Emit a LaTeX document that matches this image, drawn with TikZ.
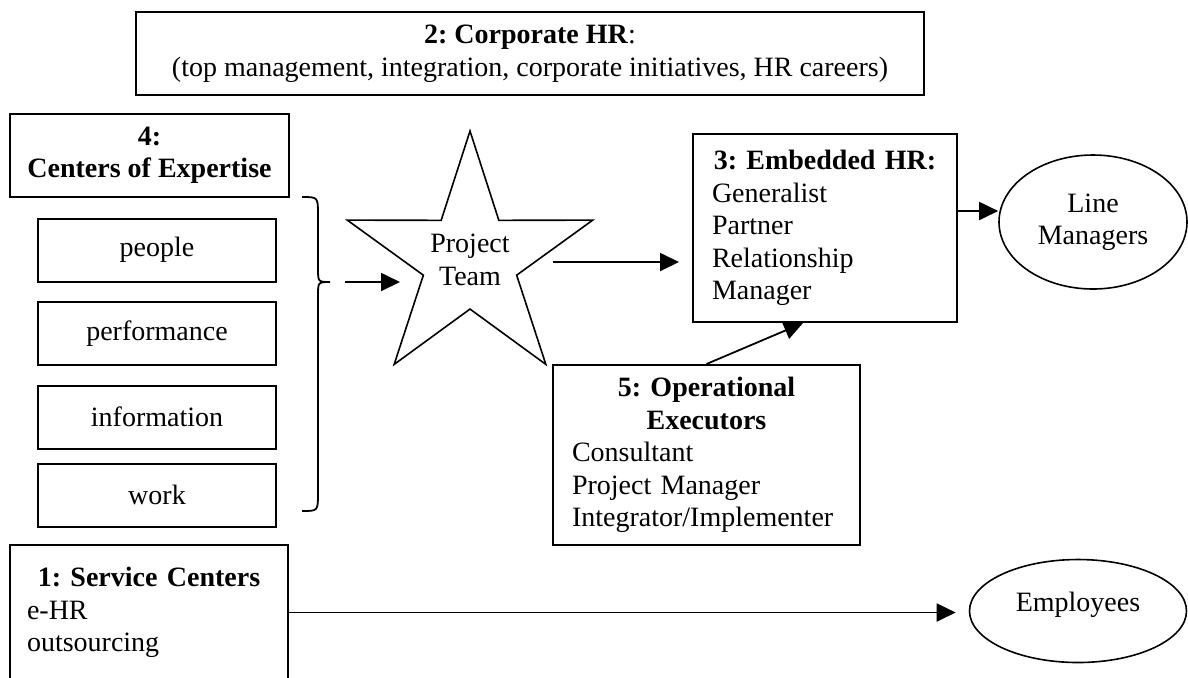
\documentclass[tikz,border=0pt]{standalone}
\usepackage{fontspec}
\setmainfont{Liberation Serif}
\usetikzlibrary{shapes.geometric,arrows.meta}
\tikzstyle{hrbox} = [draw, line width=1pt, rectangle, inner sep=0pt, align=center]
\tikzstyle{subbox} = [draw, line width=1pt, rectangle, minimum width=119pt, minimum height=31.5pt]
\tikzstyle{oval} = [draw, line width=0.8pt, ellipse, inner sep=0pt, align=center]
\tikzstyle{arr} = [line width=0.9pt, -{Triangle[length=9.5pt,width=9pt]}]
\newcommand{\boxtitle}[1]{\makebox[\linewidth]{\bfseries #1}}
\frenchspacing

\begin{document}
\begin{tikzpicture}[x=0.5pt, y=-0.5pt, font=\fontsize{14}{16.25}\selectfont]
		\useasboundingbox (0,0) rectangle (1188,677);
		\clip (0,0) rectangle (1188,677);

		% the five HR roles
		\node[hrbox, minimum width=394pt, minimum height=41.5pt](corporate) at (530,53.5) {\textbf{2: Corporate HR}:\\(top management, integration, corporate initiatives, HR careers)};
		\node[hrbox, minimum width=139.5pt, minimum height=41.5pt, font=\fontsize{14}{16.25}\selectfont\bfseries](expertise) at (149.5,155.5) {4:\\Centers of Expertise};
		\foreach \name/\y in {people/250, performance/333.5, information/417, work/495}
			\node[subbox](\name) at (157,\y) {\name};
		\node[hrbox, align=left, text width=113pt, inner xsep=9.5pt, minimum height=94pt](embedded) at (825,228) {\boxtitle{3: Embedded HR:}\\Generalist\\Partner\\Relationship\\Manager};
		\node[hrbox, align=left, text width=134.5pt, inner xsep=9.5pt, minimum height=90pt](operational) at (706.5,455) {\boxtitle{5: Operational}\\\boxtitle{Executors}\\Consultant\\Project Manager\\Integrator/Implementer};
		\node[hrbox, align=left, text width=122pt, inner xsep=8.5pt, minimum height=67.5pt](service) at (149,612.5) {\boxtitle{1: Service Centers}\\e-HR\\outsourcing};

		\node[draw, line width=0.8pt, star, star points=5, star point ratio=2.63, minimum size=129pt, inner sep=-4pt, align=center](team) at (470,260) {Project\\Team};
		\node[oval, minimum width=94pt, minimum height=67pt](lines) at (1093,222) {Line\\Managers};
		\node[oval, minimum width=108.5pt, minimum height=51.5pt, text depth=9pt](employees) at (1078,611) {Employees};

		% brace round the centers of expertise
		\draw[line width=0.9pt] (302,197) .. controls (318,197) .. (318,215) -- (318,268) .. controls (318,282) .. (330,282) .. controls (318,282) .. (318,296) -- (318,493) .. controls (318,511) .. (302,511);
		\coordinate (bracetip) at (330,282);
		\coordinate (teamin) at (400,282);
		\coordinate (teamout) at (553,262);

		\draw[arr] ([xshift=7.5pt]bracetip) -- (teamin);
		\draw[arr, shorten >=6.5pt] (teamout) -- (teamout -| embedded.west);
		\draw[arr] ([yshift=8.5pt]embedded.east) -- ([yshift=8.5pt]embedded.east -| lines.west);
		\draw[arr] (operational.north) -- ([xshift=-11pt]embedded.south);
		\draw[arr, shorten >=6.5pt] (service.east) -- (service.east -| employees.west);
	\end{tikzpicture}
\end{document}
